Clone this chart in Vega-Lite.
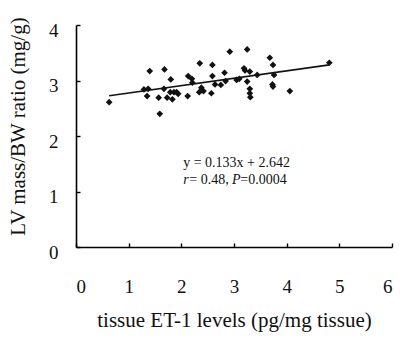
{
  "$schema": "https://vega.github.io/schema/vega-lite/v6.json",
  "width": 316,
  "height": 222,
  "autosize": "none",
  "padding": {"left": 76, "top": 25, "right": 8, "bottom": 93},
  "background": "white",
  "config": {
    "view": {"stroke": null},
    "font": "Liberation Serif",
    "axis": {
      "grid": false,
      "domainColor": "black",
      "tickColor": "black",
      "labelColor": "#111",
      "titleColor": "#111",
      "labelFont": "Liberation Serif",
      "titleFont": "Liberation Serif",
      "titleFontWeight": "normal",
      "labelFontSize": 19,
      "titleFontSize": 21,
      "domainWidth": 1.6,
      "tickWidth": 1.4,
      "tickSize": -4
    }
  },
  "datasets": {
    "pts": [
      {"x": 0.63, "y": 2.61}, {"x": 1.40, "y": 3.17}, {"x": 1.29, "y": 2.84}, {"x": 1.37, "y": 2.85},
      {"x": 1.35, "y": 2.72}, {"x": 1.59, "y": 2.40}, {"x": 1.57, "y": 2.69}, {"x": 1.68, "y": 3.20},
      {"x": 1.67, "y": 2.85}, {"x": 1.73, "y": 2.69}, {"x": 1.80, "y": 3.02}, {"x": 1.79, "y": 2.79},
      {"x": 1.83, "y": 2.66}, {"x": 1.86, "y": 2.79}, {"x": 1.91, "y": 2.79}, {"x": 1.94, "y": 2.76},
      {"x": 2.12, "y": 2.72}, {"x": 2.13, "y": 3.08}, {"x": 2.20, "y": 3.03}, {"x": 2.21, "y": 2.96},
      {"x": 2.35, "y": 3.31}, {"x": 2.34, "y": 2.79}, {"x": 2.38, "y": 2.87}, {"x": 2.42, "y": 2.81},
      {"x": 2.57, "y": 2.77}, {"x": 2.59, "y": 3.28}, {"x": 2.59, "y": 3.08}, {"x": 2.64, "y": 2.93},
      {"x": 2.75, "y": 2.92}, {"x": 2.82, "y": 3.14}, {"x": 2.84, "y": 2.99}, {"x": 2.92, "y": 3.52},
      {"x": 3.05, "y": 3.01}, {"x": 3.10, "y": 3.03}, {"x": 3.19, "y": 3.22}, {"x": 3.21, "y": 3.18},
      {"x": 3.25, "y": 3.56}, {"x": 3.25, "y": 2.98}, {"x": 3.30, "y": 2.85}, {"x": 3.30, "y": 2.77},
      {"x": 3.31, "y": 2.70}, {"x": 3.30, "y": 3.16}, {"x": 3.44, "y": 3.10}, {"x": 3.68, "y": 3.41},
      {"x": 3.74, "y": 3.28}, {"x": 3.76, "y": 3.10}, {"x": 3.73, "y": 2.93}, {"x": 3.74, "y": 2.89},
      {"x": 4.06, "y": 2.81}, {"x": 4.81, "y": 3.32}
    ],
    "fit": [
      {"x": 0.63, "y": 2.726}, {"x": 4.81, "y": 3.282}
    ],
    "plain": [
      {"x": 2.036, "y": 1.51, "t": "y = 0.133x + 2.642"},
      {"x": 2.15, "y": 1.20, "t": "= 0.48,"},
      {"x": 3.12, "y": 1.20, "t": "=0.0004"}
    ],
    "ital": [
      {"x": 2.036, "y": 1.20, "t": "r"},
      {"x": 2.96, "y": 1.20, "t": "P"}
    ]
  },
  "encoding": {
    "x": {
      "field": "x", "type": "quantitative",
      "scale": {"domain": [0, 6], "nice": false, "zero": false},
      "axis": {"values": [0, 1, 2, 3, 4, 5, 6], "title": "tissue ET-1 levels (pg/mg tissue)", "labelPadding": 34, "titlePadding": 13}
    },
    "y": {
      "field": "y", "type": "quantitative",
      "scale": {"domain": [0, 4], "nice": false, "zero": false},
      "axis": {"values": [0, 1, 2, 3, 4], "title": "LV mass/BW ratio (mg/g)", "labelPadding": 22, "labelOffset": 5, "titlePadding": 20, "titleY": 101}
    }
  },
  "layer": [
    {"data": {"name": "pts"}, "mark": {"type": "point", "shape": "diamond", "filled": true, "color": "#111", "size": 45, "opacity": 1}},
    {"data": {"name": "fit"}, "mark": {"type": "line", "color": "#111", "strokeWidth": 1.6}},
    {"data": {"name": "plain"}, "mark": {"type": "text", "align": "left", "baseline": "middle", "fontSize": 14, "color": "#111"}, "encoding": {"text": {"field": "t"}}},
    {"data": {"name": "ital"}, "mark": {"type": "text", "align": "left", "baseline": "middle", "fontSize": 14, "fontStyle": "italic", "color": "#111"}, "encoding": {"text": {"field": "t"}}}
  ]
}
